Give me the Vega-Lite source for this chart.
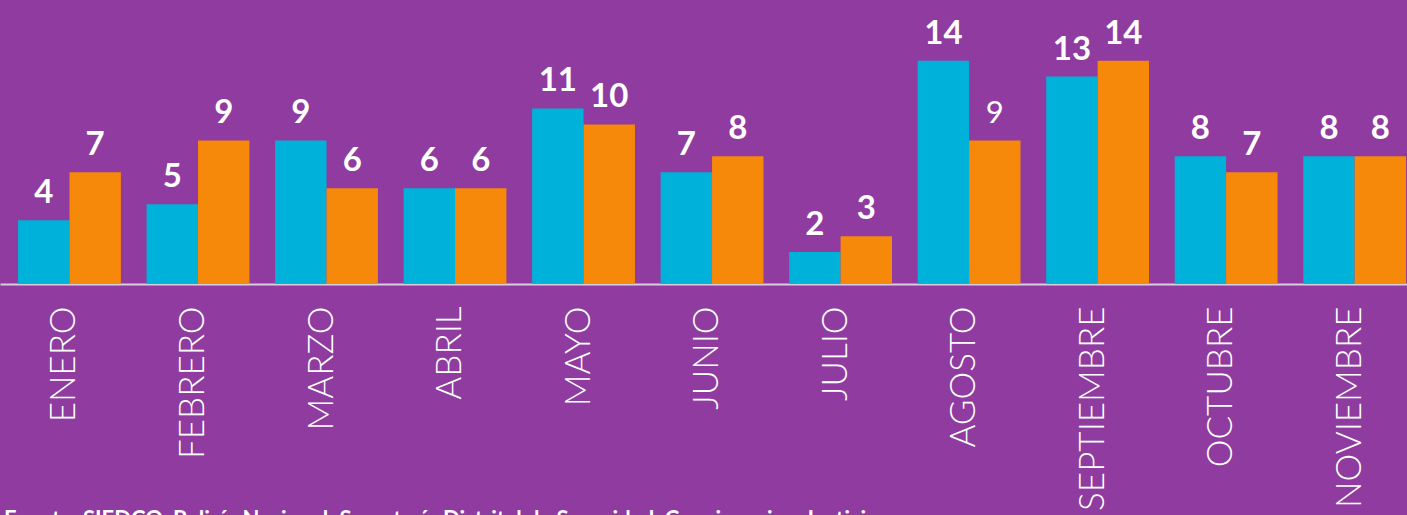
{
  "$schema": "https://vega.github.io/schema/vega-lite/v6.json",
  "width": 1407,
  "height": 284,
  "autosize": {"type": "none"},
  "padding": {"left": 0, "top": 0, "right": 0, "bottom": 231},
  "background": "#8f3b9f",
  "config": {"view": {"stroke": null}},
  "title": {
    "text": "Fuente: SIEDCO, Policía Nacional; Secretaría Distrital de Seguridad, Convivencia y Justicia",
    "orient": "bottom",
    "anchor": "start",
    "frame": "group",
    "baseline": "top",
    "offset": 0,
    "dx": 4,
    "font": "Lato",
    "fontSize": 22,
    "fontWeight": "bold",
    "color": "white"
  },
  "data": {
    "values": [
      {"mes": "ENERO", "serie": "A", "valor": 4},
      {"mes": "ENERO", "serie": "B", "valor": 7},
      {"mes": "FEBRERO", "serie": "A", "valor": 5},
      {"mes": "FEBRERO", "serie": "B", "valor": 9},
      {"mes": "MARZO", "serie": "A", "valor": 9},
      {"mes": "MARZO", "serie": "B", "valor": 6},
      {"mes": "ABRIL", "serie": "A", "valor": 6},
      {"mes": "ABRIL", "serie": "B", "valor": 6},
      {"mes": "MAYO", "serie": "A", "valor": 11},
      {"mes": "MAYO", "serie": "B", "valor": 10},
      {"mes": "JUNIO", "serie": "A", "valor": 7},
      {"mes": "JUNIO", "serie": "B", "valor": 8},
      {"mes": "JULIO", "serie": "A", "valor": 2},
      {"mes": "JULIO", "serie": "B", "valor": 3},
      {"mes": "AGOSTO", "serie": "A", "valor": 14},
      {"mes": "AGOSTO", "serie": "B", "valor": 9},
      {"mes": "SEPTIEMBRE", "serie": "A", "valor": 13},
      {"mes": "SEPTIEMBRE", "serie": "B", "valor": 14},
      {"mes": "OCTUBRE", "serie": "A", "valor": 8},
      {"mes": "OCTUBRE", "serie": "B", "valor": 7},
      {"mes": "NOVIEMBRE", "serie": "A", "valor": 8},
      {"mes": "NOVIEMBRE", "serie": "B", "valor": 8}
    ]
  },
  "encoding": {
    "x": {
      "field": "mes",
      "type": "nominal",
      "sort": ["ENERO", "FEBRERO", "MARZO", "ABRIL", "MAYO", "JUNIO", "JULIO", "AGOSTO", "SEPTIEMBRE", "OCTUBRE", "NOVIEMBRE"],
      "scale": {"paddingInner": 0.2, "paddingOuter": 0.074, "align": 0.95},
      "axis": {
        "title": null,
        "labelAngle": -90,
        "ticks": false,
        "domainColor": "#d9cde0",
        "domainWidth": 2,
        "labelColor": "white",
        "labelFont": "Lato",
        "labelFontSize": 35,
        "labelFontWeight": 300,
        "labelPadding": 22,
        "labelOffset": -5,
        "labelLimit": 0,
        "labelOverlap": false
      }
    },
    "xOffset": {"field": "serie", "scale": {"paddingInner": 0, "paddingOuter": 0}},
    "y": {
      "field": "valor",
      "type": "quantitative",
      "scale": {"domain": [0, 17.8], "nice": false},
      "axis": null
    }
  },
  "layer": [
    {
      "mark": {"type": "bar"},
      "encoding": {
        "color": {
          "field": "serie",
          "scale": {"domain": ["A", "B"], "range": ["#00b2d9", "#f7890a"]},
          "legend": null
        }
      }
    },
    {
      "transform": [{"filter": "!(datum.mes === 'AGOSTO' && datum.serie === 'B')"}],
      "mark": {"type": "text", "baseline": "alphabetic", "dy": -17, "fontSize": 33, "font": "Lato", "fontWeight": "bold", "color": "white"},
      "encoding": {"text": {"field": "valor"}}
    },
    {
      "transform": [{"filter": "datum.mes === 'AGOSTO' && datum.serie === 'B'"}],
      "mark": {"type": "text", "baseline": "alphabetic", "dy": -17, "fontSize": 31, "font": "Lato", "fontWeight": "normal", "color": "white"},
      "encoding": {"text": {"field": "valor"}}
    }
  ]
}
